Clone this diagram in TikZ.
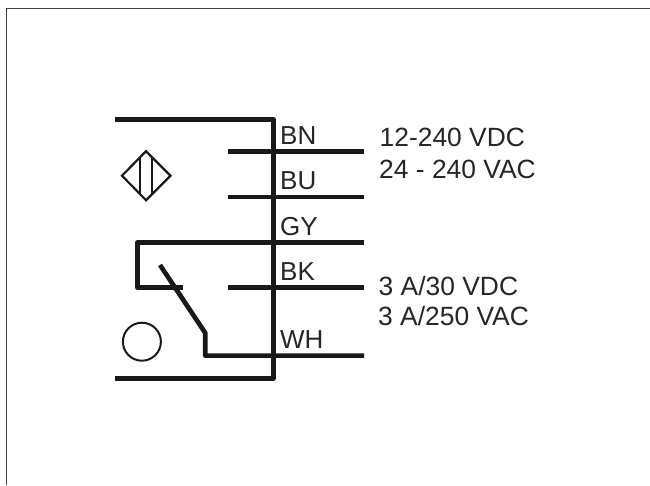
\documentclass[tikz,border=0pt]{standalone}
\usepackage{fontspec}
\setmainfont{Liberation Sans}
\begin{document}
\begin{tikzpicture}[x=1pt,y=-1pt,
  wire/.style={line width=4.7pt,line join=round,black!90},
  thinwire/.style={line width=2.2pt,black!90},
  lbl/.style={inner sep=0pt,anchor=base west,font=\fontsize{26}{28}\selectfont,text=black!85},
  val/.style={inner sep=0pt,anchor=base west,font=\fontsize{26.4}{28}\selectfont,text=black!85}]
\useasboundingbox (0,0) rectangle (650,485);
\fill[white] (0,0) rectangle (650,485);
\draw[line width=1.3pt,black!75] (6.7,485) -- (6.7,8.8) -- (650,8.8);
\coordinate (ht) at (115,119.6);
\coordinate (hc) at (273.4,119.6);
\coordinate (bc) at (273.4,378.2);
\coordinate (bt) at (115,378.2);
\draw[wire] (ht) -- (hc) -- (bc) -- (bt);
\foreach \n/\y in {bn/151.8,bu/197,bk/287.4}{
  \coordinate (\n a) at (228.3,\y); \coordinate (\n b) at (364,\y);
  \draw[wire] (\n a) -- (\n b);}
\coordinate (gya) at (364,242.3);
\coordinate (gyb) at (137.6,242.3);
\coordinate (gyc) at (137.6,287.4);
\coordinate (gyd) at (182.7,287.4);
\draw[wire] (gya) -- (gyb) -- (gyc) -- (gyd);
\coordinate (sw) at (160,265);
\coordinate (swb) at (205.3,333);
\coordinate (whc) at (205.3,355.6);
\coordinate (wha) at (364,355.6);
\draw[wire] (sw) -- (swb) -- (whc) -- (wha);
\coordinate (dl) at (122,175.7);
\coordinate (dt) at (146,151.2);
\coordinate (dr) at (170.5,175.7);
\coordinate (db) at (146,200.2);
\draw[thinwire,line join=miter] (dl) -- (dt) -- (dr) -- (db) -- cycle;
\draw[thinwire] (140,157.5) -- (140,194);
\draw[thinwire] (152,157.5) -- (152,194);
\node[circle,draw=black!90,line width=2pt,minimum size=38pt,inner sep=0pt] (prox) at (141.9,341.7) {};
\node[lbl] (bn) at (280,144.3) {BN};
\node[lbl] (bu) at (280,189.3) {BU};
\node[lbl] (gy) at (280,235) {GY};
\node[lbl] (bk) at (280,280) {BK};
\node[lbl] (wh) at (280,348) {WH};
\node[val] (v1) at (379.5,146.7) {12-240 VDC};
\node[val] (v2) at (379,178.3) {24 - 240 VAC};
\node[val] (v3) at (378.5,295) {3 A/30 VDC};
\node[val] (v4) at (378,325) {3 A/250 VAC};
\end{tikzpicture}
\end{document}
